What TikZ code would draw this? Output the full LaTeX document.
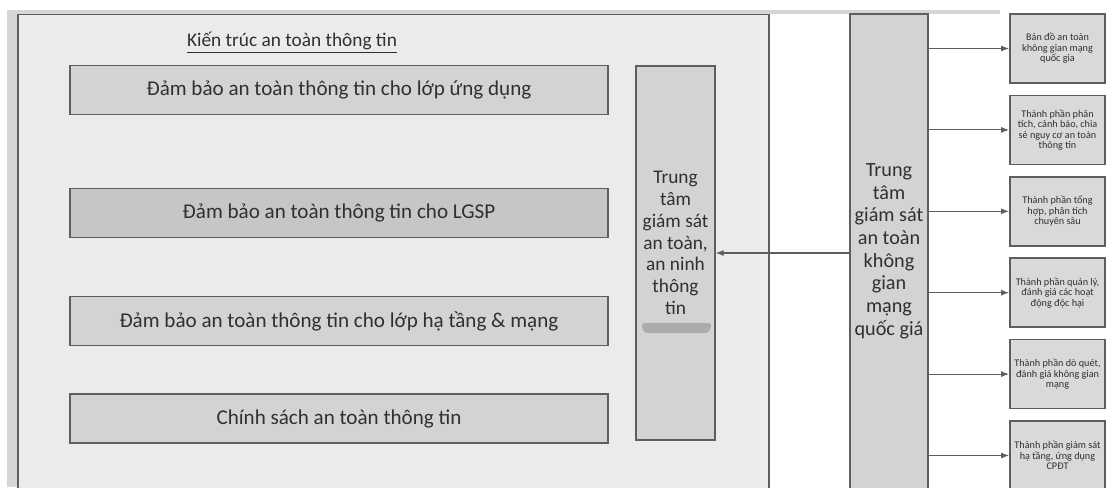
\documentclass[tikz,border=0pt]{standalone}
\usepackage{fontspec}
\setmainfont{Carlito}
\usetikzlibrary{arrows.meta, positioning}
\definecolor{framebg}{HTML}{EBEBEB}
\definecolor{stripgray}{HTML}{D6D6D6}
\definecolor{boxgray}{HTML}{D3D3D3}
\definecolor{lgspgray}{HTML}{C6C6C6}
\definecolor{compgray}{HTML}{D9D9D9}
\definecolor{linegray}{HTML}{5E5E5E}
\definecolor{textgray}{HTML}{303030}
\tikzset{
  framebox/.style={
    rectangle, minimum width=15.02cm, minimum height=9.9cm,
    draw=linegray, line width=1pt, fill=framebg
  },
  layerbox/.style={
    rectangle, minimum width=10.76cm, minimum height=0.98cm,
    draw=linegray, line width=1pt, fill=#1, text=textgray,
    font=\fontsize{12}{14}\selectfont
  },
  colbox/.style={
    rectangle, minimum width=1.57cm,
    draw=linegray, line width=1pt, fill=#1
  },
  coltext/.style={
    align=center, text=textgray, inner sep=0pt,
    font=\fontsize{11}{12.4}\selectfont
  },
  compbox/.style={
    rectangle, minimum width=1.9cm, minimum height=1.38cm,
    draw=linegray, line width=1pt, fill=compgray, text=textgray,
    align=center, inner sep=1pt, font=\fontsize{5.8}{6}\selectfont
  },
  arr/.style={-{Latex[length=1.6mm,width=1.2mm]}, line width=0.6pt, draw=linegray}
}
\begin{document}
\begin{tikzpicture}[x=0.02cm, y=-0.02cm]
  \useasboundingbox (0,0) rectangle (1115,487);
  \clip (0,0) rectangle (1115,487);

  % outer strips
  \fill[stripgray] (7,10) rectangle (1000,14);
  \fill[stripgray] (7,10) rectangle (18,487);

  % architecture frame
  \node[framebox] (frame) at (393.5,262) {};
  \node[coltext, font=\fontsize{11}{13}\selectfont] (title) at (292,43)
       {\underline{Kiến trúc an toàn thông tin}};

  \node[layerbox=boxgray]  (app)    at (339,90)    {Đảm bảo an toàn thông tin cho lớp ứng dụng};
  \node[layerbox=lgspgray] (lgsp)   at (339,213)   {Đảm bảo an toàn thông tin cho LGSP};
  \node[layerbox=boxgray]  (infra)  at (339,321)   {Đảm bảo an toàn thông tin cho lớp hạ tầng \& mạng};
  \node[layerbox=boxgray]  (policy) at (339,418.5) {Chính sách an toàn thông tin};

  % monitoring centre
  \node[colbox=boxgray, minimum height=7.48cm] (soc) at (675.5,253) {};
  \node[coltext] (soctext) at (675.5,243)
       {Trung\\tâm\\giám sát\\an toàn,\\an ninh\\thông\\tin};
  \fill[gray!65, rounded corners=2pt] (641,323) -- (712,323) -- (709,333) -- (644,333) -- cycle;

  % national centre
  \node[colbox=boxgray, minimum height=10cm] (natcol) at (889,264) {};
  \node[coltext, font=\fontsize{11.5}{12.9}\selectfont] (nattext) at (889,251)
       {Trung\\tâm\\giám sát\\an toàn\\không\\gian\\mạng\\quốc giá};

  % components
  \foreach \i/\txt in {
      1/{Bản đồ an toàn\\không gian mạng\\quốc gia},
      2/{Thành phần phân\\tích, cảnh báo, chia\\sẻ nguy cơ an toàn\\thông tin},
      3/{Thành phần tổng\\hợp, phân tích\\chuyên sâu},
      4/{Thành phần quản lý,\\đánh giá các hoạt\\động độc hại},
      5/{Thành phần dò quét,\\đánh giá không gian\\mạng},
      6/{Thành phần giám sát\\hạ tầng, ứng dụng\\CPĐT}}
    \node[compbox] (c\i) at (1057.5,{48.5+81.4*(\i-1)}) {\txt};

  \foreach \i in {1,...,6}
    \draw[arr] (natcol.east |- c\i.west) -- (c\i.west);

  \draw[arr] (natcol.west |- soc.east) -- (soc.east);
\end{tikzpicture}
\end{document}
